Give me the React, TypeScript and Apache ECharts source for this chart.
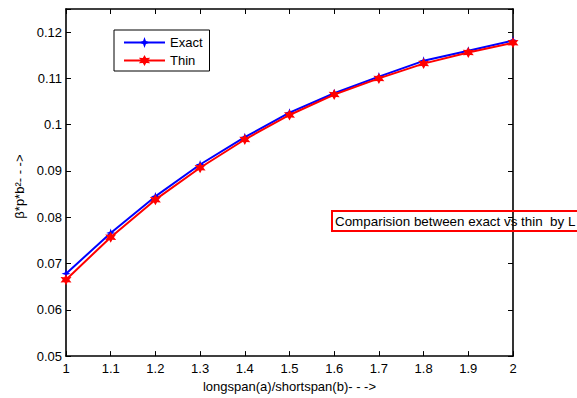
import React, { useEffect, useRef } from "react";
import * as echarts from "echarts";

const ratios = [1, 1.1, 1.2, 1.3, 1.4, 1.5, 1.6, 1.7, 1.8, 1.9, 2];
const exactValues = [0.0678, 0.0766, 0.0845, 0.0914, 0.0973, 0.1026, 0.1068, 0.1104, 0.1138, 0.1160, 0.1182];
const thinValues = [0.0665, 0.0757, 0.0838, 0.0907, 0.0968, 0.1021, 0.1065, 0.1100, 0.1132, 0.1156, 0.1177];
const seriesNames = ["Exact", "Thin"];
const annotationText = "Comparision between exact vs thin  by L";
const xLabel = "longspan(a)/shortspan(b)- - ->";
const yLabel = "β*p*b²- - ->";

const FONT = "Liberation Sans, Arial, Helvetica, sans-serif";
const FS = 13;

const hexagram =
  "path://M0,-10 L2.6,-4.5 L8.66,-5 L5.2,0 L8.66,5 L2.6,4.5 L0,10 L-2.6,4.5 L-8.66,5 L-5.2,0 L-8.66,-5 L-2.6,-4.5 Z";
const star4 = "path://M0,-10 L2.5,-2.5 L10,0 L2.5,2.5 L0,10 L-2.5,2.5 L-10,0 L-2.5,-2.5 Z";

const fmt = (v: number) => {
  const r = Math.round(v * 1000) / 1000;
  if (Math.abs(r * 100 - Math.round(r * 100)) > 1e-6) return "";
  return String(parseFloat(r.toFixed(3)));
};

export default function App() {
  const ref = useRef<HTMLDivElement>(null);
  useEffect(() => {
    const chart = echarts.init(ref.current!, undefined, { renderer: "svg" });
    const axisLine = { show: true, lineStyle: { color: "#000", width: 1.6 } };
    const tick = { show: true, inside: true, length: 5, lineStyle: { color: "#000", width: 1 } };
    chart.setOption({
      animation: false,
      backgroundColor: "#fff",
      textStyle: { fontFamily: FONT },
      grid: { left: 66, right: 64, top: 9, bottom: 38, containLabel: false },
      legend: {
        left: 114,
        top: 30,
        orient: "vertical",
        data: seriesNames,
        borderColor: "#000",
        borderWidth: 1,
        padding: [6, 7, 4, 9],
        itemGap: 5,
        itemWidth: 41,
        itemHeight: 14,
        textStyle: { fontFamily: FONT, fontSize: FS, color: "#000" },
        backgroundColor: "#fff",
      },
      xAxis: [
        {
          type: "value",
          min: 1,
          max: 2,
          interval: 0.1,
          position: "bottom",
          name: xLabel,
          nameLocation: "middle",
          nameGap: 21,
          nameTextStyle: { fontFamily: FONT, fontSize: FS, color: "#000" },
          axisLine,
          axisTick: tick,
          axisLabel: {
            color: "#000",
            fontSize: FS,
            fontFamily: FONT,
            margin: 6,
            formatter: (v: number) => String(parseFloat(v.toFixed(1))),
          },
          splitLine: { show: false },
        },
        {
          type: "value",
          min: 1,
          max: 2,
          interval: 0.1,
          position: "top",
          axisLine,
          axisTick: tick,
          axisLabel: { show: false },
          splitLine: { show: false },
        },
      ],
      yAxis: [
        {
          type: "value",
          min: 0.05,
          max: 0.125,
          interval: 0.01,
          position: "left",
          name: yLabel,
          nameLocation: "middle",
          nameGap: 37,
          nameTextStyle: { fontFamily: FONT, fontSize: FS, color: "#000", padding: [0, 8, 0, 0] },
          axisLine,
          axisTick: tick,
          axisLabel: { color: "#000", fontSize: FS, fontFamily: FONT, margin: 4, formatter: fmt },
          splitLine: { show: false },
        },
        {
          type: "value",
          min: 0.05,
          max: 0.125,
          interval: 0.01,
          position: "right",
          axisLine,
          axisTick: tick,
          axisLabel: { show: false },
          splitLine: { show: false },
        },
      ],
      series: [
        {
          name: seriesNames[0],
          type: "line",
          data: ratios.map((x, i) => [x, exactValues[i]]),
          color: "#0000ff",
          lineStyle: { color: "#0000ff", width: 2 },
          symbol: star4,
          symbolSize: 9,
          itemStyle: { color: "#0000ff" },
          z: 3,
        },
        {
          name: seriesNames[1],
          type: "line",
          data: ratios.map((x, i) => [x, thinValues[i]]),
          color: "#ff0000",
          lineStyle: { color: "#ff0000", width: 2 },
          symbol: hexagram,
          symbolSize: 11,
          itemStyle: { color: "#ff0000" },
          z: 4,
        },
      ],
      graphic: [
        {
          type: "rect",
          shape: { x: 332, y: 211, width: 280, height: 20 },
          style: { fill: "none", stroke: "#ff0000", lineWidth: 2 },
          z: 1,
        },
        {
          type: "text",
          x: 335,
          y: 221,
          style: {
            text: annotationText,
            fontFamily: FONT,
            fontSize: 13.4,
            fill: "#000",
            verticalAlign: "middle",
          },
          z: 1,
        },
      ],
    });
    return () => chart.dispose();
  }, []);
  return (
    <div
      ref={ref}
      style={{ position: "fixed", left: 0, top: 0, width: 577, height: 398 }}
    />
  );
}
